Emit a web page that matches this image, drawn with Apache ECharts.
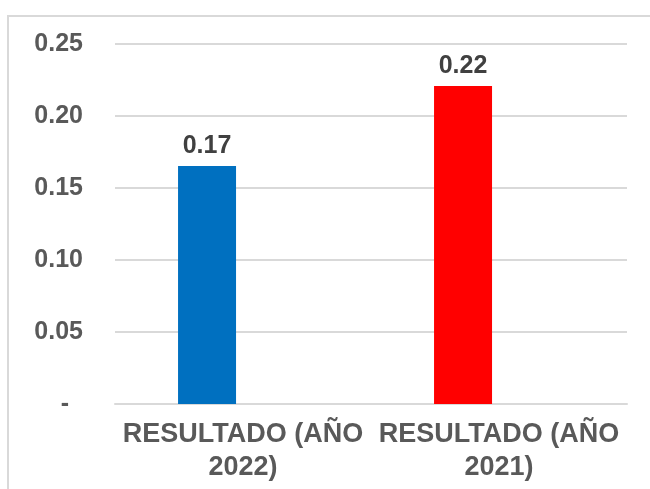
<!DOCTYPE html>
<html>
<head>
<meta charset="utf-8">
<script src="https://cdn.jsdelivr.net/npm/echarts@6/dist/echarts.min.js"></script>
<style>
  html, body { margin: 0; padding: 0; background: #fff; }
  #chart { width: 650px; height: 489px; position: relative; }
  /* marco del gráfico (borde gris arriba e izquierda) */
  .frame {
    position: absolute; left: 7px; top: 15px; width: 700px; height: 500px;
    border-left: 2px solid #D9D9D9; border-top: 2px solid #D9D9D9;
    pointer-events: none;
  }
</style>
</head>
<body>
<div id="chart"></div>
<div class="frame"></div>
<script>
const categories = ['RESULTADO (AÑO\n2022)', 'RESULTADO (AÑO\n2021)'];
const values = [0.1653, 0.2208];
const barColors = ['#0070C0', '#FF0000'];
const yTicks = { min: 0, max: 0.25, interval: 0.05 };

const FONT = "'Liberation Sans', Arial, sans-serif";

const chart = echarts.init(document.getElementById('chart'), null, { renderer: 'canvas' });

chart.setOption({
  backgroundColor: 'transparent',
  animation: false,
  grid: { left: 115, right: 23, top: 44, bottom: 85 },
  xAxis: {
    type: 'category',
    data: categories,
    axisLine: { show: true, lineStyle: { color: '#D9D9D9', width: 2 } },
    axisTick: { show: false },
    axisLabel: {
      color: '#595959', fontFamily: FONT, fontWeight: 'bold', fontSize: 27,
      lineHeight: 33, margin: 14, interval: 0,
    },
  },
  yAxis: {
    type: 'value',
    min: yTicks.min, max: yTicks.max, interval: yTicks.interval,
    axisLine: { show: false },
    axisTick: { show: false },
    splitLine: { lineStyle: { color: '#D9D9D9', width: 2 } },
    axisLabel: {
      color: '#595959', fontFamily: FONT, fontWeight: 'bold', fontSize: 25, margin: 32,
      formatter: v => v === 0 ? '-  ' : v.toFixed(2),
    },
  },
  series: [
    {
      type: 'bar',
      barWidth: 58,
      barGap: '24%',
      data: values.map((v, i) => ({ value: v, itemStyle: { color: barColors[i] } })),
      label: {
        show: true, position: 'top', distance: 7,
        color: '#404040', fontFamily: FONT, fontWeight: 'bold', fontSize: 25,
        formatter: p => p.value.toFixed(2),
      },
    },
    // serie vacía: deja el hueco a la derecha como en Excel
    { type: 'bar', barWidth: 58, data: categories.map(() => '-') },
  ],
});
</script>
</body>
</html>
